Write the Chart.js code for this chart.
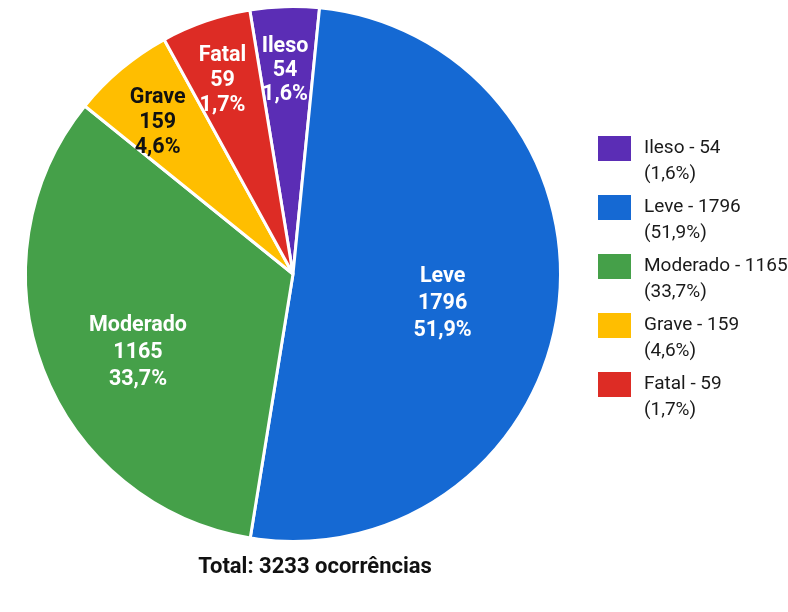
<!DOCTYPE html>
<html lang="pt-BR">
<head>
<meta charset="utf-8">
<script src="https://cdn.jsdelivr.net/npm/chart.js@4"></script>
<style>
  html, body { margin: 0; padding: 0; background: #fff; }
</style>
</head>
<body>
<canvas id="graficoGravidade" width="788" height="612"></canvas>
<script>
const categorias = ['Ileso', 'Leve', 'Moderado', 'Grave', 'Fatal'];
const ocorrencias = [54, 1796, 1165, 159, 59];
const percentuais = ['1,6%', '51,9%', '33,7%', '4,6%', '1,7%'];
// tamanho de cada fatia como aparece na figura (graus)
const fatiasGraus = [15, 183.5, 119.7, 22.3, 19.5];
const total = 3233;

const cores = ['#5B2DB5', '#1569D3', '#45A049', '#FFBE00', '#DD2C25'];
const corRotulo = ['#fff', '#fff', '#fff', '#111', '#fff'];

// posição dos rótulos: t = fração do ângulo da fatia, r = fração do raio
const posRotulos = [
    { t: 0.47, r: 0.76, lh: 24 },
    { t: 0.52, r: 0.57, lh: 27 },
    { t: 0.45, r: 0.65, lh: 27 },
    { t: 0.42, r: 0.76, lh: 25 },
    { t: 0.45, r: 0.77, lh: 25 }
];

const rotulosFatias = {
    id: 'rotulosFatias',
    afterDatasetsDraw(chart) {
        const ctx = chart.ctx;
        const arcs = chart.getDatasetMeta(0).data;
        ctx.save();
        ctx.font = 'bold 21.5px Roboto';
        ctx.textAlign = 'center';
        ctx.textBaseline = 'middle';
        arcs.forEach((arc, i) => {
            const p = posRotulos[i];
            const ang = arc.startAngle + (arc.endAngle - arc.startAngle) * p.t;
            const x = arc.x + Math.cos(ang) * arc.outerRadius * p.r;
            const y = arc.y + Math.sin(ang) * arc.outerRadius * p.r;
            const linhas = [categorias[i], String(ocorrencias[i]), percentuais[i]];
            ctx.fillStyle = corRotulo[i];
            linhas.forEach((txt, k) => ctx.fillText(txt, x, y + (k - 1) * p.lh));
        });
        ctx.restore();
    }
};

// legenda à direita e total embaixo
const legendaTotal = {
    id: 'legendaTotal',
    afterDraw(chart) {
        const ctx = chart.ctx;
        const x0 = 598, y0 = 136, passo = 59;
        ctx.save();
        ctx.textBaseline = 'middle';
        ctx.textAlign = 'left';
        ctx.font = '19px Roboto';
        categorias.forEach((cat, i) => {
            const y = y0 + i * passo;
            ctx.fillStyle = cores[i];
            ctx.fillRect(x0, y, 33, 25);
            ctx.fillStyle = '#1a1a1a';
            ctx.fillText(cat + ' - ' + ocorrencias[i], 644, y + 12);
            ctx.fillText('(' + percentuais[i] + ')', 644, y + 38);
        });
        ctx.textAlign = 'center';
        ctx.font = 'bold 22px Roboto';
        ctx.fillStyle = '#111';
        ctx.fillText('Total: ' + total + ' ocorrências', 315, 567);
        ctx.restore();
    }
};

const ctx = document.getElementById('graficoGravidade').getContext('2d');

new Chart(ctx, {
    type: 'pie',
    data: {
        labels: categorias,
        datasets: [{
            data: fatiasGraus,
            backgroundColor: cores,
            borderColor: '#fff',
            borderWidth: 3
        }]
    },
    options: {
        responsive: false,
        animation: false,
        rotation: -9.3,
        layout: {
            padding: { left: 23, top: 5, right: 225, bottom: 69 }
        },
        plugins: {
            legend: { display: false },
            tooltip: { enabled: false }
        }
    },
    plugins: [rotulosFatias, legendaTotal]
});
</script>
</body>
</html>
